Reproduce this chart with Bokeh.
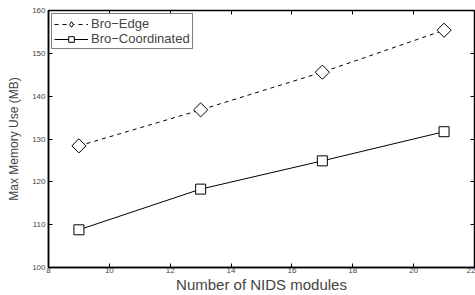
import math
from bokeh.plotting import figure
from bokeh.models import Range1d, Legend, LegendItem, FixedTicker, LinearAxis
from bokeh.embed import file_html
from bokeh.resources import INLINE

modules = [9, 13, 17, 21]
bro_edge = [128.4, 136.8, 145.6, 155.4]
bro_coord = [108.8, 118.3, 124.9, 131.7]
x_ticks = [8, 10, 12, 14, 16, 18, 20, 22]
y_ticks = [100, 110, 120, 130, 140, 150, 160]

FONT = "Liberation Sans"

p = figure(width=475, height=295, output_backend="svg", toolbar_location=None,
           x_range=Range1d(8, 22), y_range=Range1d(100, 160),
           min_border_left=48, min_border_top=10, min_border_right=1, min_border_bottom=0)
p.xgrid.visible = False
p.ygrid.visible = False
p.outline_line_color = "black"
p.outline_line_width = 1.5
p.background_fill_color = "white"

for ax in (p.xaxis[0], p.yaxis[0]):
    ax.major_tick_in = 4
    ax.major_tick_out = 0
    ax.minor_tick_line_color = None
    ax.axis_line_width = 1.5
    ax.major_label_text_font = FONT
    ax.major_label_text_font_size = "8px"
    ax.axis_label_text_font = FONT
    ax.axis_label_text_font_style = "normal"
p.xaxis.ticker = FixedTicker(ticks=x_ticks)
p.yaxis.ticker = FixedTicker(ticks=y_ticks)
p.xaxis.axis_label = "Number of NIDS modules"
p.xaxis.axis_label_text_font_size = "15px"
p.xaxis.axis_label_standoff = 0
p.xaxis.major_label_standoff = 0
p.yaxis.axis_label = "Max Memory Use (MB)"
p.yaxis.axis_label_text_font_size = "12px"
p.yaxis.axis_label_standoff = 8
p.yaxis.major_label_standoff = 3

# mirrored tick marks on top and right (MATLAB box style), no labels
top_ax = LinearAxis(ticker=FixedTicker(ticks=x_ticks), major_tick_in=4, major_tick_out=0,
                    minor_tick_line_color=None, major_label_text_color=None,
                    major_label_standoff=0, axis_line_color=None)
right_ax = LinearAxis(ticker=FixedTicker(ticks=y_ticks), major_tick_in=4, major_tick_out=0,
                      minor_tick_line_color=None, major_label_text_color=None,
                      major_label_standoff=0, axis_line_color=None)
p.add_layout(top_ax, "above")
p.add_layout(right_ax, "right")

r1 = p.line(modules, bro_edge, line_color="black", line_width=1, line_dash="4 4")
s1 = p.scatter(modules, bro_edge, marker="square", size=10, angle=math.pi / 4,
               fill_color="white", line_color="black", line_width=1)
r2 = p.line(modules, bro_coord, line_color="black", line_width=1)
s2 = p.scatter(modules, bro_coord, marker="square", size=10, fill_color="white",
               line_color="black", line_width=1)
# legend-only diamond glyph (not drawn in the plot: NaN position)
leg_d = p.scatter(x=[float("nan")], y=[float("nan")], marker="diamond", size=15,
                  fill_color="white", line_color="black", line_width=1)

legend = Legend(items=[LegendItem(label="Bro\u2212Edge", renderers=[r1, leg_d]),
                       LegendItem(label="Bro\u2212Coordinated", renderers=[r2, s2])],
                location="top_left")
legend.label_text_font = FONT
legend.label_text_font_size = "13px"
legend.border_line_color = "black"
legend.border_line_width = 1
legend.margin = 3
legend.padding = 2
legend.spacing = 0
legend.glyph_height = 14
legend.glyph_width = 34
legend.label_height = 14
legend.label_standoff = 3
legend.background_fill_alpha = 1
p.add_layout(legend)

open("out.html", "w").write(file_html(p, INLINE))
